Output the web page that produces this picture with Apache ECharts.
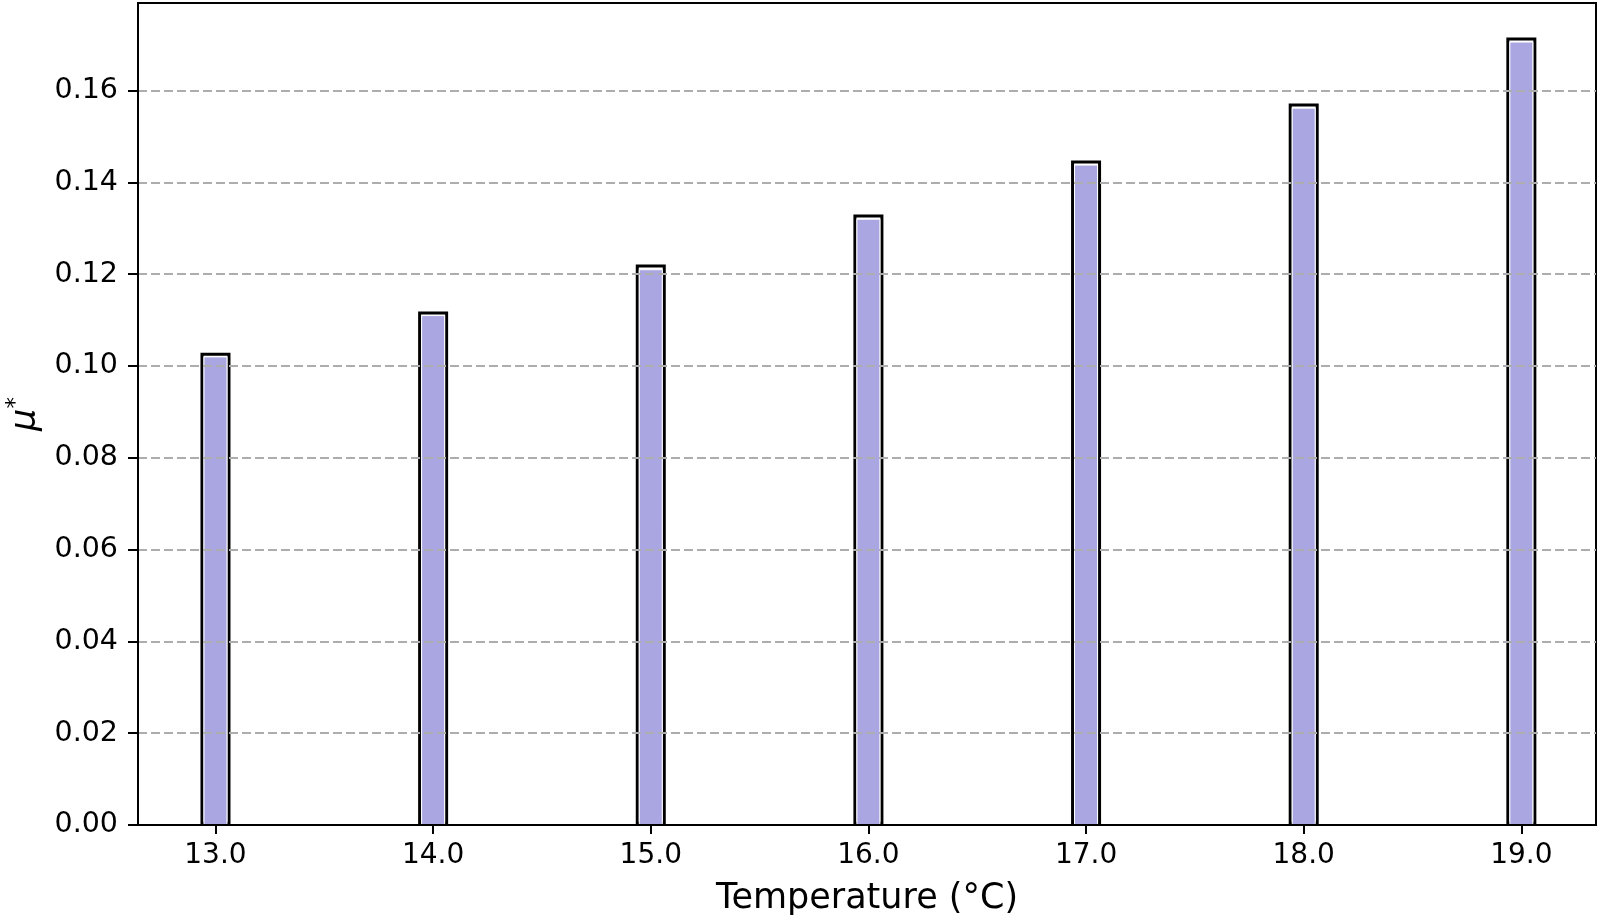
<!DOCTYPE html>
<html>
<head>
<meta charset="utf-8">
<title>mu* vs temperature</title>
<script src="https://cdn.jsdelivr.net/npm/echarts@6/dist/echarts.min.js"></script>
<style>
  html, body { margin: 0; padding: 0; background: #fff; }
  #chart { width: 1600px; height: 916px; }
</style>
</head>
<body>
<div id="chart"></div>
<script>
// temperatures (°C)
const temps = [13, 14, 15, 16, 17, 18, 19]
// outlined bar heights
const outerValues = [0.1029, 0.1119, 0.1221, 0.1330, 0.1448, 0.1572, 0.1716]
// filled (purple) bar heights
const innerValues = [0.1021, 0.1111, 0.1211, 0.1321, 0.1439, 0.1563, 0.1707]
const yTicks = [0, 0.02, 0.04, 0.06, 0.08, 0.10, 0.12, 0.14, 0.16]

const font = 'DejaVu Sans'
const chart = echarts.init(document.getElementById('chart'))

const xAxisBase = {
  type: 'value',
  min: 12.644,
  max: 19.343,
  splitLine: { show: false }
}

chart.setOption({
  animation: false,
  grid: {
    left: 138,
    right: 4,
    top: 3,
    bottom: 91,
    outerBoundsMode: 'none',
    containLabel: false,
    show: true,
    borderColor: '#000',
    borderWidth: 2,
    backgroundColor: 'transparent',
    z: 20
  },
  xAxis: [
    {
      ...xAxisBase,
      name: 'Temperature (°C)',
      nameLocation: 'middle',
      nameGap: 56,
      nameTextStyle: { fontFamily: font, fontSize: 35, color: '#000' },
      axisLine: { show: true, lineStyle: { color: '#000', width: 2 } },
      axisTick: {
        show: true,
        customValues: temps,
        length: 9,
        lineStyle: { color: '#000', width: 2 }
      },
      axisLabel: {
        customValues: temps,
        formatter: (v) => v.toFixed(1),
        fontFamily: font,
        fontSize: 28,
        color: '#000',
        margin: 17
      },
      z: 20
    },
    {
      ...xAxisBase,
      show: false
    }
  ],
  yAxis: {
    type: 'value',
    min: 0,
    max: 0.1791,
    name: '{mu|μ}{sup|*}',
    nameLocation: 'middle',
    nameGap: 89,
    nameRotate: 90,
    nameTextStyle: {
      rich: {
        mu: { fontFamily: font, fontSize: 35, fontStyle: 'italic', color: '#000' },
        sup: { fontFamily: font, fontSize: 23, color: '#000', padding: [0, 0, 20, 0] }
      }
    },
    axisLine: { show: true, lineStyle: { color: '#000', width: 2 } },
    axisTick: {
      show: true,
      customValues: yTicks,
      length: 10,
      lineStyle: { color: '#000', width: 2 }
    },
    axisLabel: {
      customValues: yTicks,
      formatter: (v) => v.toFixed(2),
      fontFamily: font,
      fontSize: 28.5,
      color: '#000',
      margin: 20
    },
    splitLine: {
      show: true,
      lineStyle: { color: '#adadad', width: 1.8, type: [9, 4] }
    },
    z: 20
  },
  series: [
    {
      type: 'bar',
      xAxisIndex: 0,
      barWidth: 30,
      z: 2,
      data: temps.map((t, i) => [t, outerValues[i]]),
      itemStyle: { color: '#fff', borderColor: '#000', borderWidth: 3 }
    },
    {
      type: 'bar',
      xAxisIndex: 1,
      barWidth: 24,
      z: 3,
      data: temps.map((t, i) => [t, innerValues[i]]),
      itemStyle: { color: '#aaa6e2', borderColor: '#fff', borderWidth: 1 }
    }
  ]
})
</script>
</body>
</html>
